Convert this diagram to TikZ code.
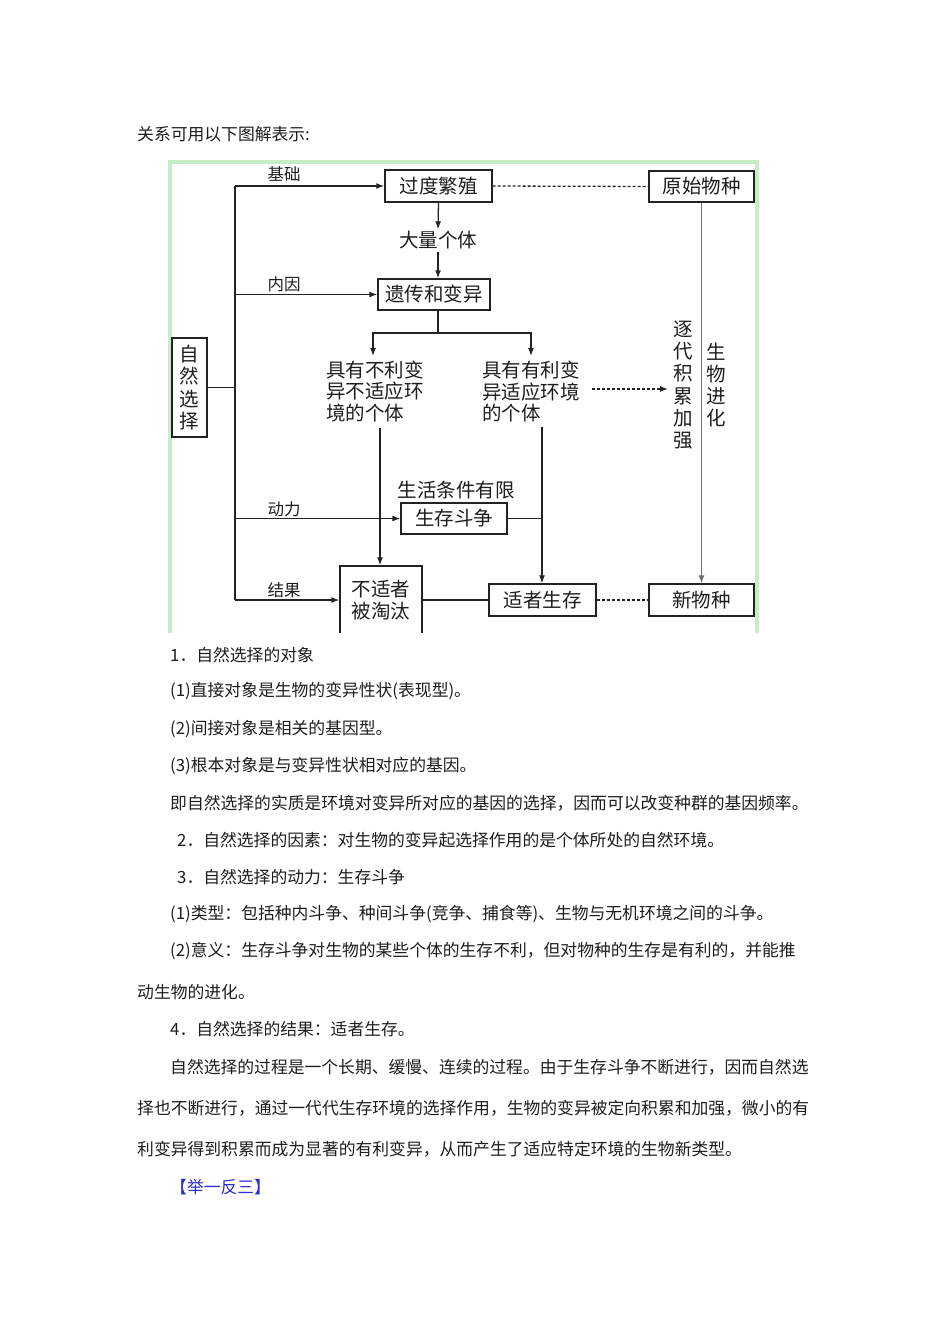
\documentclass[tikz,border=0pt]{standalone}
\usepackage{fontspec}
\setmainfont{Noto Sans CJK SC}
\usetikzlibrary{arrows.meta}
\definecolor{ln}{RGB}{35,35,35}
\definecolor{txt}{RGB}{30,30,30}
\definecolor{frame}{RGB}{200,236,200}
\definecolor{gline}{RGB}{110,110,110}
\definecolor{blu}{RGB}{45,45,205}
\begin{document}
\begin{tikzpicture}[x=1pt,y=-1pt,
  box/.style={draw=ln, line width=1.3pt, inner sep=0pt, text=txt,
    font=\fontsize{19.5}{22}\selectfont},
  plain/.style={inner sep=0pt, text=txt, font=\fontsize{19.5}{22}\selectfont},
  lbl/.style={inner sep=0pt, text=txt, font=\fontsize{16.5}{18}\selectfont},
  vtext/.style={inner sep=0pt, text=txt, align=center, font=\fontsize{19.5}{22.2}\selectfont},
  body/.style={anchor=west, inner sep=0pt, text=txt, font=\fontsize{16.8}{18}\selectfont},
  conn/.style={draw=ln, line width=1.3pt},
  arr/.style={conn, -{Latex[length=8pt,width=6pt]}},
  dsh/.style={draw=ln, line width=1.3pt, dash pattern=on 3pt off 2pt},
  dsharr/.style={dsh, -{Latex[length=8pt,width=6pt]}}
]
\useasboundingbox (0,0) rectangle (950,1344);
\fill[white] (0,0) rectangle (950,1344);

% ---------- diagram ----------
\begin{scope}
\clip (160,150) rectangle (770,632);
\draw[frame, line width=3.5pt] (170,640) -- (170,162) -- (757,162) -- (757,640);

\node[box, minimum width=107pt, minimum height=32pt] (proc) at (438.5,186) {过度繁殖};
\node[box, minimum width=105pt, minimum height=31pt] (orig) at (701.5,186.5) {原始物种};
\node[plain, minimum height=22pt] (many) at (438,240.5) {大量个体};
\node[box, minimum width=112pt, minimum height=31pt] (gen) at (434,294.5) {遗传和变异};
\node[box, minimum width=35pt, minimum height=99pt, align=center,
      font=\fontsize{19.5}{22.5}\selectfont] (nsel) at (189.5,387.5) {自\\然\\选\\择};
\node[plain, anchor=west, align=left, font=\fontsize{19.5}{21.5}\selectfont] (unfav) at (326,391.5) {具有不利变\\异不适应环\\境的个体};
\node[plain, anchor=west, align=left, font=\fontsize{19.5}{21.5}\selectfont] (fav) at (482,391.5) {具有有利变\\异适应环境\\的个体};
\node[vtext] (accum) at (683,385) {逐\\代\\积\\累\\加\\强};
\node[vtext] (evol) at (716,385) {生\\物\\进\\化};
\node[plain] (limit) at (456,490) {生活条件有限};
\node[box, minimum width=106pt, minimum height=31pt] (strug) at (454,518.5) {生存斗争};
\node[box, minimum width=82pt, minimum height=68pt, align=center,
      font=\fontsize{19.5}{22}\selectfont] (elim) at (381,600) {不适者\\被淘汰};
\node[box, minimum width=107pt, minimum height=32pt] (fit) at (542.5,600) {适者生存};
\node[box, minimum width=105pt, minimum height=32pt] (newsp) at (701.5,600) {新物种};

\node[lbl] (l1) at (284,174) {基础};
\node[lbl] (l2) at (284,284) {内因};
\node[lbl] (l3) at (284,509) {动力};
\node[lbl] (l4) at (284,590) {结果};

\coordinate (tTop) at (235,186);
\coordinate (tBot) at (235,600);
\coordinate (split) at (438,333);
\coordinate (uA) at (373,356);
\coordinate (fA) at (531,356);
\coordinate (uB) at (380,428);
\coordinate (fB) at (542,427);
\coordinate (dA) at (592,389);
\coordinate (dB) at (668,389);

\draw[conn] (tTop) -- (tBot);
\draw[conn] (nsel.east) -- (tTop |- nsel.east);
\draw[arr] (tTop) -- (proc.west);
\draw[arr] (tTop |- gen.west) -- (gen.west);
\draw[arr] (tTop |- strug.west) -- (strug.west);
\draw[arr] (tBot) -- (elim.west);

\draw[arr] (proc.south) -- (many.north);
\draw[arr] (many.south) -- (many.south |- gen.north);
\draw[conn] (split |- gen.south) -- (split);
\draw[arr] (split) -| (uA);
\draw[arr] (split) -| (fA);

\draw[arr] (uB) -- (uB |- elim.north);
\draw[arr] (fB) -- (fB |- fit.north);
\draw[conn] (strug.east) -- (fB |- strug.east);
\draw[dsharr] (dA) -- (dB);

\draw[dsh] (proc.east) -- (orig.west);
\draw[dsh] (fit.east) -- (newsp.west);
\draw[conn] (elim.east |- fit.west) -- (fit.west);
\draw[draw=gline, line width=1.3pt, -{Latex[length=8pt,width=6pt]}] (orig.south) -- (newsp.north);
\end{scope}

% ---------- page text ----------
\node[body] (t0) at (137,134) {关系可用以下图解表示:};
\node[body] (t1) at (170,655) {1．自然选择的对象};
\node[body] (t2) at (170,691) {(1)直接对象是生物的变异性状(表现型)。};
\node[body] (t3) at (170,729) {(2)间接对象是相关的基因型。};
\node[body] (t4) at (170,766) {(3)根本对象是与变异性状相对应的基因。};
\node[body] (t5) at (170,803) {即自然选择的实质是环境对变异所对应的基因的选择，因而可以改变种群的基因频率。};
\node[body] (t6) at (177,840) {2．自然选择的因素：对生物的变异起选择作用的是个体所处的自然环境。};
\node[body] (t7) at (177,877) {3．自然选择的动力：生存斗争};
\node[body] (t8) at (170,914) {(1)类型：包括种内斗争、种间斗争(竞争、捕食等)、生物与无机环境之间的斗争。};
\node[body] (t9) at (170,951) {(2)意义：生存斗争对生物的某些个体的生存不利，但对物种的生存是有利的，并能推};
\node[body] (t10) at (137,992) {动生物的进化。};
\node[body] (t11) at (170,1029) {4．自然选择的结果：适者生存。};
\node[body] (t12) at (170,1067) {自然选择的过程是一个长期、缓慢、连续的过程。由于生存斗争不断进行，因而自然选};
\node[body] (t13) at (137,1108) {择也不断进行，通过一代代生存环境的选择作用，生物的变异被定向积累和加强，微小的有};
\node[body] (t14) at (137,1149) {利变异得到积累而成为显著的有利变异，从而产生了适应特定环境的生物新类型。};
\node[body, text=blu] (t15) at (170,1187) {【举一反三】};
\end{tikzpicture}
\end{document}
